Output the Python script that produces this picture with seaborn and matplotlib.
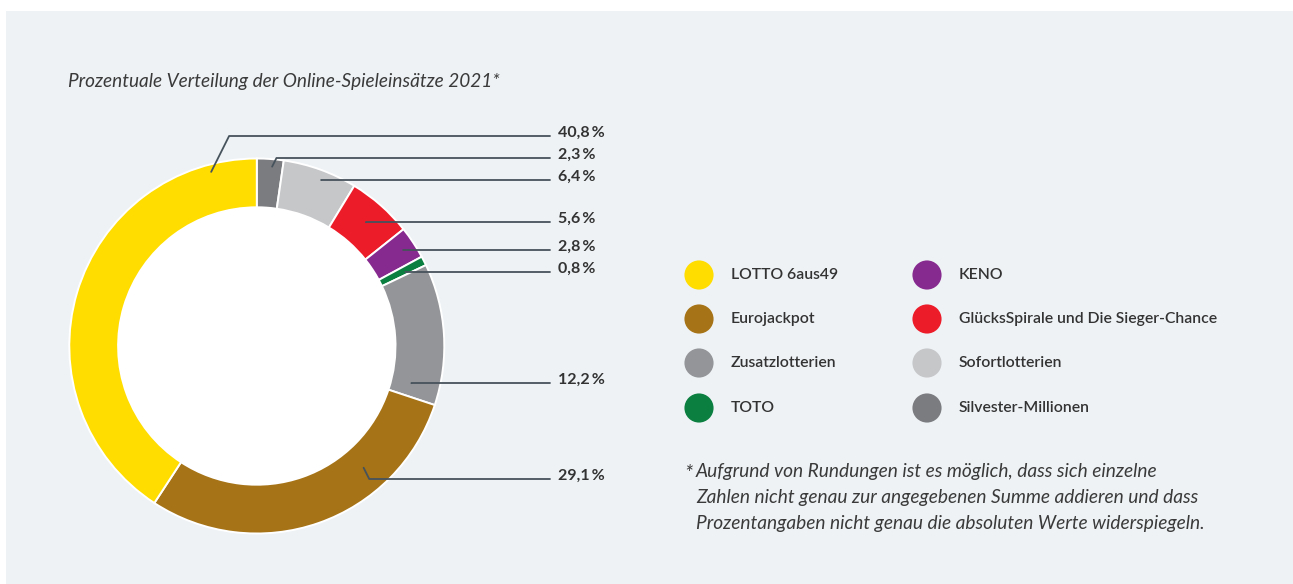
import numpy as np
import pandas as pd
import matplotlib.pyplot as plt
from matplotlib.patches import Rectangle, Circle
import seaborn as sns

# Online-Spieleinsätze 2021 in %, im Uhrzeigersinn ab 12 Uhr
categories = ["Silvester-Millionen", "Sofortlotterien", "GlücksSpirale und Die Sieger-Chance",
              "KENO", "TOTO", "Zusatzlotterien", "Eurojackpot", "LOTTO 6aus49"]
shares = [2.3, 6.4, 5.6, 2.8, 0.8, 12.2, 29.1, 40.8]
colors = ["#7b7c80", "#c6c7c9", "#ed1c29", "#872a8f", "#0a7f40", "#949598", "#a67316", "#ffdd00"]

legend_order = ["LOTTO 6aus49", "Eurojackpot", "Zusatzlotterien", "TOTO",
                "KENO", "GlücksSpirale und Die Sieger-Chance", "Sofortlotterien", "Silvester-Millionen"]

title = "Prozentuale Verteilung der Online-Spieleinsätze 2021*"
footnote = ["Aufgrund von Rundungen ist es möglich, dass sich einzelne",
            "Zahlen nicht genau zur angegebenen Summe addieren und dass",
            "Prozentangaben nicht genau die absoluten Werte widerspiegeln."]

# layout in pixels
W, H = 1293, 584
cx, cy, r_out, r_in = 256.8, 346, 187.5, 138.7
label_y = [158, 180, 222, 250, 272, 383, 479, 136]
anchor_frac = [0.59, 0.56, 0.5, 0.52, 0.66, 0.89, 0.29, 0.90]
anchor_r = [180, 178, 165, 175, 166, 159, 162, 180]

sns.set_theme(style="white")
plt.rcParams["font.family"] = ["Lato", "DejaVu Sans"]
text_col = "#333333"

fig = plt.figure(figsize=(W / 100, H / 100), dpi=100, facecolor="white")
ax = fig.add_axes([0, 0, 1, 1])
ax.add_patch(Rectangle((6, 11), W - 6, H - 11, facecolor="#eef2f5", edgecolor="none", zorder=0))
ax.add_patch(Circle((cx, cy), r_in, facecolor="white", edgecolor="none", zorder=0.5))

# y axis is flipped below, so counterclockwise in data = clockwise on screen
wedges, _ = ax.pie(shares, colors=colors, startangle=-90, counterclock=True,
                   radius=r_out, center=(cx, cy), frame=False,
                   wedgeprops=dict(width=r_out - r_in, edgecolor="white", linewidth=1.4))

# leader lines + percent labels
for w, v, ly, f, r in zip(wedges, shares, label_y, anchor_frac, anchor_r):
    t = np.deg2rad(w.theta1 + f * (w.theta2 - w.theta1))
    px, py = cx + r * np.cos(t), cy + r * np.sin(t)
    ex = px + 0.5 * abs(ly - py)
    ax.plot([px, ex, 550], [py, ly, ly], color="#46525c", lw=1.3, zorder=3)
    ax.text(558, ly - 3, f"{v:.1f}".replace(".", ",") + "\u2009%", fontsize=11.5,
            fontweight="bold", color=text_col, ha="left", va="center")

# legend dots
leg = pd.DataFrame({"name": legend_order})
leg["x"] = [699] * 4 + [927] * 4
leg["y"] = [275, 319, 363, 408] * 2
sns.scatterplot(data=leg, x="x", y="y", hue="name", palette=dict(zip(categories, colors)),
                s=440, linewidth=0, legend=False, ax=ax, zorder=3)
for _, row in leg.iterrows():
    ax.text(row.x + 32, row.y, row["name"], fontsize=11.3, fontweight="semibold",
            color=text_col, ha="left", va="center")

ax.text(68, 82, title, fontsize=13.7, fontstyle="italic", color="#3a3a3a", ha="left", va="center")
ax.text(684, 474, "*", fontsize=15, fontstyle="italic", color="#3a3a3a", ha="left", va="center")
for i, line in enumerate(footnote):
    ax.text(696, 472 + i * 25.5, line, fontsize=13.8, fontstyle="italic",
            color="#3a3a3a", ha="left", va="center")

ax.set_xlim(0, W)
ax.set_ylim(H, 0)
ax.set_axis_off()

fig.savefig("out.png", dpi=100)
